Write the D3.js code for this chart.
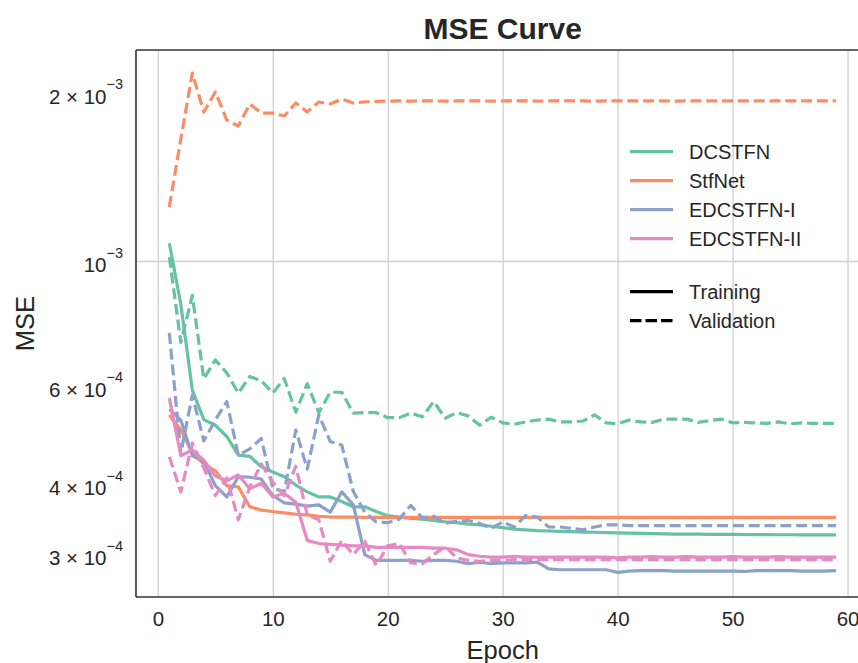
<!DOCTYPE html>
<html>
<head>
<meta charset="utf-8">
<script src="https://cdn.jsdelivr.net/npm/d3@7"></script>
<style>
  body { margin: 0; background: #fff; }
  text { font-family: "Liberation Sans", Arial, sans-serif; fill: #262626; }
</style>
</head>
<body>
<div id="chart"></div>
<script>
// MSE values, in units of 1e-4
const epochs = [1, 2, 3, 4, 5, 6, 7, 8, 9, 10, 11, 12, 13, 14, 15, 16, 17, 18, 19, 20,
  21, 22, 23, 24, 25, 26, 27, 28, 29, 30, 31, 32, 33, 34, 35, 36, 37, 38, 39, 40,
  41, 42, 43, 44, 45, 46, 47, 48, 49, 50, 51, 52, 53, 54, 55, 56, 57, 58, 59];

const dcstfnTrain = [10.76, 8.37, 5.88, 5.21, 5.09, 4.86, 4.50, 4.48, 4.29, 4.20,
  4.12, 3.98, 3.87, 3.79, 3.79, 3.72, 3.64, 3.64, 3.57, 3.51,
  3.49, 3.47, 3.46, 3.44, 3.42, 3.41, 3.39, 3.38, 3.36, 3.34,
  3.32, 3.31, 3.30, 3.295, 3.29, 3.286, 3.281, 3.278, 3.274, 3.271,
  3.267, 3.263, 3.259, 3.256, 3.254, 3.253, 3.252, 3.251, 3.25, 3.249,
  3.248, 3.247, 3.246, 3.245, 3.245, 3.244, 3.243, 3.242, 3.242];
const dcstfnVal = [10.17, 7.15, 8.68, 6.16, 6.66, 6.31, 5.81, 6.22, 6.11, 5.81,
  6.17, 5.37, 6.04, 5.36, 5.83, 5.83, 5.35, 5.36, 5.36, 5.25,
  5.25, 5.35, 5.27, 5.61, 5.24, 5.36, 5.29, 5.09, 5.26, 5.14,
  5.11, 5.16, 5.20, 5.22, 5.16, 5.16, 5.18, 5.31, 5.14, 5.12,
  5.20, 5.16, 5.15, 5.22, 5.22, 5.22, 5.15, 5.19, 5.22, 5.14,
  5.15, 5.14, 5.13, 5.16, 5.12, 5.14, 5.13, 5.13, 5.13];

const stfnetTrain = [5.31, 4.99, 4.54, 4.34, 4.22, 3.97, 3.95, 3.64, 3.59, 3.57,
  3.55, 3.53, 3.52, 3.50, 3.49, 3.49, 3.49, 3.485, 3.485, 3.485,
  3.485, 3.485, 3.485, 3.485, 3.485, 3.485, 3.485, 3.485, 3.485, 3.485,
  3.485, 3.485, 3.485, 3.485, 3.485, 3.485, 3.485, 3.485, 3.485, 3.485,
  3.485, 3.485, 3.485, 3.485, 3.485, 3.485, 3.485, 3.485, 3.485, 3.485,
  3.485, 3.485, 3.485, 3.485, 3.485, 3.485, 3.485, 3.485, 3.485];
const stfnetVal = [12.49, 16.52, 21.66, 18.45, 20.04, 17.85, 17.42, 19.07, 18.37, 18.37,
  18.15, 19.15, 18.45, 19.23, 19.07, 19.46, 19.15, 19.23, 19.27, 19.30,
  19.31, 19.30, 19.31, 19.31, 19.30, 19.31, 19.31, 19.31, 19.30, 19.31,
  19.31, 19.31, 19.30, 19.31, 19.31, 19.31, 19.31, 19.30, 19.31, 19.31,
  19.31, 19.31, 19.31, 19.31, 19.30, 19.31, 19.31, 19.31, 19.31, 19.31,
  19.31, 19.31, 19.31, 19.31, 19.31, 19.31, 19.31, 19.31, 19.31];

const edcstfn1Train = [5.44, 5.20, 4.49, 4.39, 3.97, 3.79, 4.12, 4.11, 4.08, 3.81,
  3.70, 3.68, 3.65, 3.67, 3.56, 3.87, 3.67, 2.99, 2.92, 2.92,
  2.92, 2.92, 2.91, 2.92, 2.92, 2.91, 2.88, 2.90, 2.88, 2.89,
  2.89, 2.89, 2.90, 2.82, 2.81, 2.81, 2.81, 2.81, 2.81, 2.78,
  2.795, 2.80, 2.80, 2.80, 2.795, 2.795, 2.795, 2.795, 2.795, 2.795,
  2.79, 2.80, 2.80, 2.80, 2.80, 2.795, 2.795, 2.795, 2.80];
const edcstfn1Val = [7.44, 4.54, 5.76, 4.77, 5.20, 5.61, 4.50, 4.62, 4.82, 3.93,
  3.87, 4.99, 4.25, 5.31, 4.76, 4.69, 3.88, 3.56, 3.42, 3.41,
  3.46, 3.66, 3.48, 3.50, 3.40, 3.43, 3.44, 3.40, 3.33, 3.42,
  3.35, 3.51, 3.49, 3.35, 3.35, 3.33, 3.31, 3.35, 3.38, 3.38,
  3.37, 3.37, 3.37, 3.37, 3.37, 3.37, 3.37, 3.37, 3.37, 3.37,
  3.37, 3.37, 3.37, 3.37, 3.37, 3.37, 3.37, 3.37, 3.37];

const edcstfn2Train = [5.69, 4.49, 4.60, 4.41, 4.13, 4.05, 4.15, 3.92, 4.01, 3.79,
  3.85, 3.71, 3.17, 3.13, 3.12, 3.11, 3.10, 3.10, 3.08, 3.08,
  3.08, 3.08, 3.08, 3.07, 3.07, 3.05, 2.99, 2.97, 2.96, 2.96,
  2.97, 2.96, 2.96, 2.96, 2.96, 2.96, 2.96, 2.96, 2.96, 2.95,
  2.96, 2.96, 2.965, 2.96, 2.96, 2.965, 2.96, 2.96, 2.96, 2.965,
  2.96, 2.96, 2.96, 2.965, 2.96, 2.96, 2.96, 2.96, 2.96];
const edcstfn2Val = [4.47, 3.87, 4.73, 4.27, 3.81, 4.10, 3.45, 3.95, 4.34, 4.03,
  3.81, 4.30, 3.52, 3.45, 2.91, 3.17, 2.99, 3.16, 2.86, 3.10,
  3.13, 2.89, 2.88, 2.99, 3.09, 2.95, 2.92, 2.91, 2.92, 2.92,
  2.93, 2.93, 2.93, 2.93, 2.93, 2.93, 2.93, 2.93, 2.93, 2.93,
  2.93, 2.93, 2.93, 2.93, 2.93, 2.93, 2.93, 2.93, 2.93, 2.93,
  2.93, 2.93, 2.93, 2.93, 2.93, 2.93, 2.93, 2.93, 2.93];

const modelNames = ["DCSTFN", "StfNet", "EDCSTFN-I", "EDCSTFN-II"];
const modelColors = ["#66c2a5", "#fc8d62", "#8da0cb", "#e78ac3"];
const trainSeries = [dcstfnTrain, stfnetTrain, edcstfn1Train, edcstfn2Train];
const valSeries = [dcstfnVal, stfnetVal, edcstfn1Val, edcstfn2Val];

const xTicks = [0, 10, 20, 30, 40, 50, 60];
const yTicks = [3, 4, 6, 10, 20];
const yTickMantissa = ["3", "4", "6", "", "2"];
const yTickExponent = ["\u22124", "\u22124", "\u22124", "\u22123", "\u22123"];
const yGrid = [10];

const width = 858;
const height = 663;
const plot = { left: 136, right: 869.4, top: 50, bottom: 597 };
const lineWidth = 3.2;
const dash = "11,4.8";

const svg = d3
  .select("#chart")
  .append("svg")
  .attr("width", width)
  .attr("height", height);

const x = d3.scaleLinear().domain([-1.9, 61.9]).range([plot.left, plot.right]);
const y = d3.scaleLog().domain([2.512, 23.81]).range([plot.bottom, plot.top]);

// grid
svg
  .append("g")
  .attr("transform", `translate(0, ${plot.bottom})`)
  .call(d3.axisBottom(x).tickValues(xTicks).tickSize(-(plot.bottom - plot.top)).tickFormat(""))
  .call((g) => g.select(".domain").remove())
  .selectAll("line")
  .attr("stroke", "#d0d0d0")
  .attr("stroke-width", 1.3);

svg
  .append("g")
  .attr("transform", `translate(${plot.left}, 0)`)
  .call(d3.axisLeft(y).tickValues(yGrid).tickSize(-(plot.right - plot.left)).tickFormat(""))
  .call((g) => g.select(".domain").remove())
  .selectAll("line")
  .attr("stroke", "#d0d0d0")
  .attr("stroke-width", 1.3);

// lines
const line = d3
  .line()
  .x((d, i) => x(epochs[i]))
  .y((d) => y(d));

modelNames.forEach((name, k) => {
  svg
    .append("path")
    .datum(trainSeries[k])
    .attr("fill", "none")
    .attr("stroke", modelColors[k])
    .attr("stroke-width", lineWidth)
    .attr("stroke-linejoin", "round")
    .attr("d", line);

  svg
    .append("path")
    .datum(valSeries[k])
    .attr("fill", "none")
    .attr("stroke", modelColors[k])
    .attr("stroke-width", lineWidth)
    .attr("stroke-linejoin", "round")
    .attr("stroke-dasharray", dash)
    .attr("d", line);
});

// spines
const spine = svg.append("g").attr("stroke", "#333").attr("stroke-width", 1.6);
spine.append("line").attr("x1", plot.left).attr("x2", plot.left).attr("y1", plot.top).attr("y2", plot.bottom);
spine.append("line").attr("x1", plot.left).attr("x2", plot.right).attr("y1", plot.top).attr("y2", plot.top);
spine.append("line").attr("x1", plot.left).attr("x2", plot.right).attr("y1", plot.bottom).attr("y2", plot.bottom);

// x tick labels
svg
  .append("g")
  .attr("transform", `translate(0, ${plot.bottom})`)
  .call(d3.axisBottom(x).tickValues(xTicks).tickSize(0).tickPadding(14))
  .call((g) => g.select(".domain").remove())
  .selectAll("text")
  .style("font-size", "20.5px")
  .style("font-family", "Liberation Sans, Arial, sans-serif")
  .attr("fill", "#262626");

// y tick labels: m × 10^e
const yLabels = svg.append("g");
yTicks.forEach((v, i) => {
  const t = yLabels
    .append("text")
    .attr("x", 123)
    .attr("y", y(v) + 11.5)
    .attr("text-anchor", "end")
    .style("font-size", "20.5px");
  t.append("tspan").text(yTickMantissa[i] ? `${yTickMantissa[i]} \u00d7 10` : "10");
  t.append("tspan").attr("dy", -14.5).style("font-size", "14.5px").text(yTickExponent[i]);
});

// axis labels and title
svg
  .append("text")
  .attr("x", (plot.left + plot.right) / 2)
  .attr("y", 659)
  .attr("text-anchor", "middle")
  .style("font-size", "25.5px")
  .text("Epoch");

svg
  .append("text")
  .attr("transform", `translate(34, ${(plot.top + plot.bottom) / 2}) rotate(-90)`)
  .attr("text-anchor", "middle")
  .style("font-size", "25.5px")
  .text("MSE");

svg
  .append("text")
  .attr("x", (plot.left + plot.right) / 2)
  .attr("y", 39)
  .attr("text-anchor", "middle")
  .style("font-size", "30px")
  .style("font-weight", "bold")
  .text("MSE Curve");

// legend
const legend = svg.append("g");
modelNames.forEach((name, i) => {
  const ly = 151.7 + i * 29;
  legend.append("line")
    .attr("x1", 630).attr("x2", 673).attr("y1", ly).attr("y2", ly)
    .attr("stroke", modelColors[i]).attr("stroke-width", lineWidth);
  legend.append("text")
    .attr("x", 689).attr("y", ly + 7.2)
    .style("font-size", "20px")
    .text(name);
});

[["Training", null], ["Validation", "11.5,4"]].forEach(([label, d], i) => {
  const ly = 291.7 + i * 29;
  legend.append("line")
    .attr("x1", 630).attr("x2", 673).attr("y1", ly).attr("y2", ly)
    .attr("stroke", "#000").attr("stroke-width", lineWidth)
    .attr("stroke-dasharray", d);
  legend.append("text")
    .attr("x", 689).attr("y", ly + 7.2)
    .style("font-size", "20px")
    .text(label);
});
</script>
</body>
</html>
